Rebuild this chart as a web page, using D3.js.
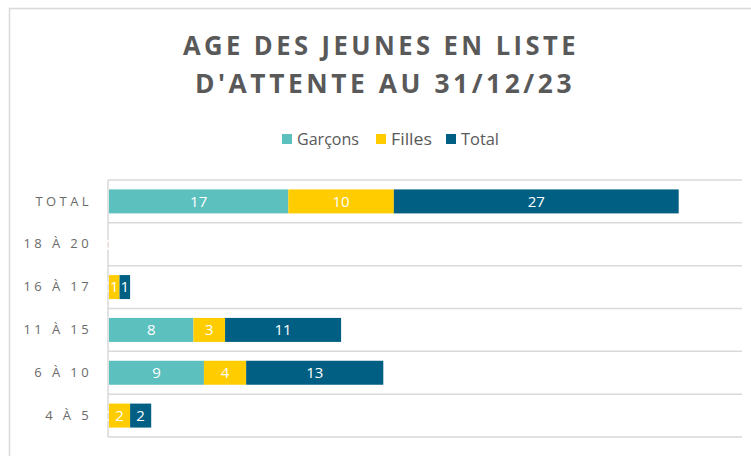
<!DOCTYPE html>
<html>
<head>
<meta charset="utf-8">
<script src="https://cdn.jsdelivr.net/npm/d3@7"></script>
<style>
  body { margin: 0; background: #fff; }
  text { font-family: "Open Sans", sans-serif; }
</style>
</head>
<body>
<div id="chart"></div>
<script>
// Data
const categories = ["TOTAL", "18 À 20", "16 À 17", "11 À 15", "6 À 10", "4 À 5"];
const garcons = [17, 0, 0, 8, 9, 0];
const filles = [10, 0, 1, 3, 4, 2];
const total = [27, 0, 1, 11, 13, 2];
const seriesNames = ["Garçons", "Filles", "Total"];
const titleLines = ["AGE DES JEUNES EN LISTE", "D'ATTENTE AU 31/12/23"];

const W = 751, H = 456;
const colors = ["#5bc0be", "#ffcc00", "#015f84"];
const grey = "#595959";
const gridColor = "#d9d9d9";

const rows = categories.map((c, i) => ({
    cat: c, "Garçons": garcons[i], "Filles": filles[i], "Total": total[i]
}));

const svg = d3.select("#chart").append("svg")
    .attr("width", W)
    .attr("height", H);

// chart border (cropped on the right and bottom in the reference)
svg.append("rect")
    .attr("x", 9.5).attr("y", 8.5)
    .attr("width", 800).attr("height", 500)
    .attr("fill", "#fff")
    .attr("stroke", gridColor)
    .attr("stroke-width", 1.5);

// Title
const titleX = [381, 385];
const titleWidths = [396, 380];
svg.selectAll(".title")
    .data(titleLines)
    .join("text")
    .attr("class", "title")
    .attr("x", (d, i) => titleX[i])
    .attr("y", (d, i) => 55 + i * 38)
    .attr("text-anchor", "middle")
    .attr("fill", grey)
    .style("font-size", "26px")
    .style("font-weight", "bold")
    .style("letter-spacing", "3.5px")
    .attr("textLength", (d, i) => titleWidths[i])
    .attr("lengthAdjust", "spacingAndGlyphs")
    .text(d => d);

// Legend
const legendX = [282, 376, 446];
const legendW = [62, 41, 38];
const legend = svg.selectAll(".legend")
    .data(seriesNames)
    .join("g")
    .attr("class", "legend")
    .attr("transform", (d, i) => `translate(${legendX[i]}, 134)`);
legend.append("rect")
    .attr("width", 10).attr("height", 10)
    .attr("fill", (d, i) => colors[i]);
legend.append("text")
    .attr("x", 15).attr("y", 11)
    .attr("fill", grey)
    .style("font-size", "16px")
    .attr("textLength", (d, i) => legendW[i])
    .attr("lengthAdjust", "spacingAndGlyphs")
    .text(d => d);

// Scales
const x = d3.scaleLinear().domain([0, 60]).range([109, 742]);
const y = d3.scaleBand()
    .domain(categories)
    .range([180, 437])
    .paddingInner(0.44)
    .paddingOuter(0.22);
const step = y.step();

// Horizontal gridlines at category boundaries
const gridYs = categories.map(c => y(c) - y.paddingInner() * step / 2)
    .concat([437]);
svg.selectAll(".grid")
    .data(gridYs)
    .join("line")
    .attr("class", "grid")
    .attr("x1", 108).attr("x2", 742)
    .attr("y1", d => d).attr("y2", d => d)
    .attr("stroke", gridColor)
    .attr("stroke-width", 1.5);

// Vertical axis line
svg.append("line")
    .attr("x1", 108).attr("x2", 108)
    .attr("y1", 180).attr("y2", 437)
    .attr("stroke", gridColor)
    .attr("stroke-width", 1.5);

// Category labels
svg.append("g")
    .attr("transform", "translate(108,0)")
    .call(d3.axisLeft(y).tickSize(0).tickPadding(16))
    .call(g => g.select(".domain").remove())
    .selectAll("text")
    .attr("fill", "#6a6a6a")
    .style("font-family", "'Open Sans', sans-serif")
    .style("font-size", "13px")
    .style("letter-spacing", "3.4px");

// Stacked bars
const stacked = d3.stack().keys(seriesNames)(rows);
const layers = svg.selectAll(".layer")
    .data(stacked)
    .join("g")
    .attr("class", "layer")
    .attr("fill", (d, i) => colors[i]);

layers.selectAll("rect")
    .data(d => d)
    .join("rect")
    .attr("x", d => x(d[0]))
    .attr("y", d => y(d.data.cat))
    .attr("width", d => x(d[1]) - x(d[0]))
    .attr("height", y.bandwidth());

// Data labels
layers.selectAll(".lbl")
    .data(d => d.map(v => ({ v, key: d.key })))
    .join("text")
    .attr("class", "lbl")
    .attr("x", d => (x(d.v[0]) + x(d.v[1])) / 2)
    .attr("y", d => y(d.v.data.cat) + y.bandwidth() / 2)
    .attr("dy", "0.36em")
    .attr("text-anchor", "middle")
    .attr("fill", "#fff")
    .style("font-size", "15px")
    .text(d => d.v.data[d.key]);
</script>
</body>
</html>
